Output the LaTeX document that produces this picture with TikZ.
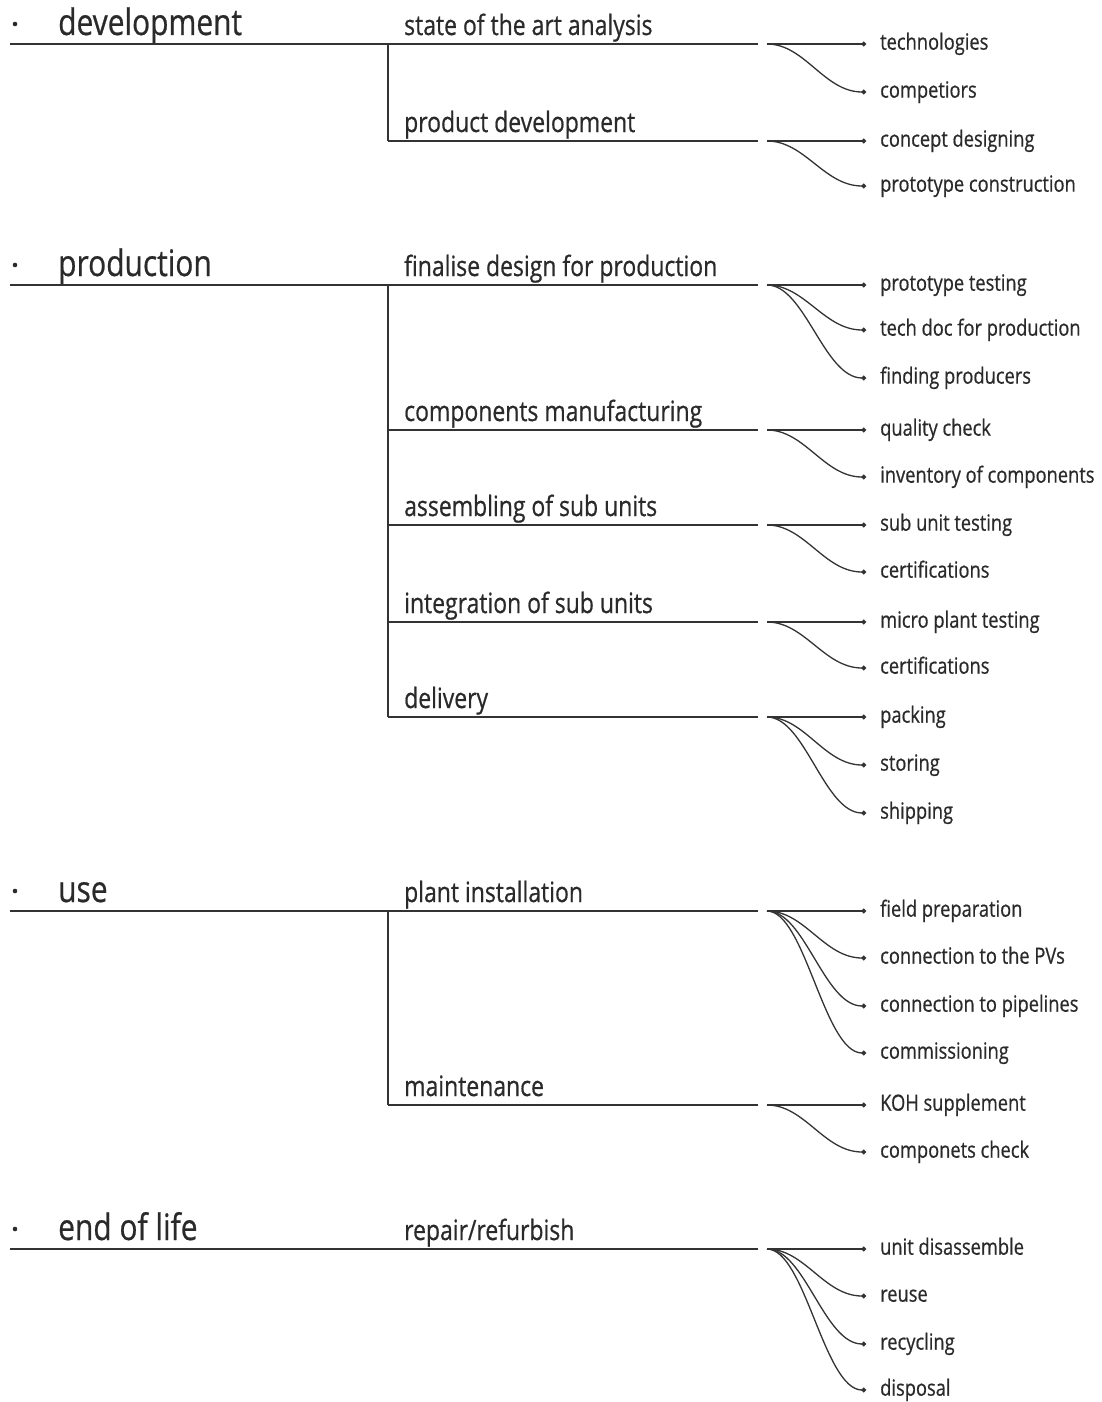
\documentclass[tikz,border=0pt]{standalone}
\usepackage{fontspec}
\setmainfont[FakeStretch=0.82,FakeBold=0.6]{Open Sans}
\usetikzlibrary{arrows.meta,calc}
\definecolor{tc}{HTML}{2A2A2A}
\definecolor{lc}{HTML}{333333}
\tikzset{
  ln/.style={line width=1.3pt, draw=lc},
  conn/.style={ln, -{Circle[length=4.6pt]}},
  headtxt/.style={anchor=base west, inner sep=0pt, font=\fontsize{36.5}{40}\selectfont, text=tc},
  subtxt/.style={anchor=base west, inner sep=0pt, font=\fontsize{28}{32}\selectfont, text=tc},
  leaf/.style={anchor=mid west, inner xsep=14pt, inner ysep=0pt, yshift=-3pt, font=\fontsize{22.3}{25}\selectfont, text=tc},
  bullet/.style={circle, fill=tc, inner sep=0pt, minimum size=4.6pt}
}
\newcommand\mkhead[3]{%
  \node[bullet] (#1dot) at (15,{#2-20}) {};
  \node[headtxt] (#1) at (58,{#2-9}) {#3};
  \coordinate (#1L) at (10,#2);
  \coordinate (#1R) at (388,#2);
  \draw[ln] (#1L) -- (#1R);}
\newcommand\mksub[3]{%
  \node[subtxt] (#1) at (404,{#2-9}) {#3};
  \coordinate (#1L) at (388,#2);
  \coordinate (#1R) at (758,#2);
  \coordinate (#1S) at (767,#2);
  \draw[ln] (#1L) -- (#1R);}
\newcommand\mkleaf[4]{%
  \node[leaf] (#1) at (866,#3) {#4};
  \draw[conn] (#2) .. controls ($(#2)+(38,0)$) and ($([yshift=3pt]#1.mid west)+(-42,0)$) .. ([yshift=3pt]#1.mid west);}
\begin{document}
\begin{tikzpicture}[x=1pt,y=-1pt]
\useasboundingbox (0,0) rectangle (1102,1402);
% development
\mkhead{hdev}{44}{development}
\mksub{sart}{44}{state of the art analysis}
\mksub{spd}{141}{product development}
\draw[ln] (sartL) -- (spdL);
\mkleaf{ltech}{sartS}{44}{technologies}
\mkleaf{lcomp}{sartS}{92}{competiors}
\mkleaf{lconc}{spdS}{141}{concept designing}
\mkleaf{lprot}{spdS}{186}{prototype construction}
% production
\mkhead{hprod}{285}{production}
\mksub{sfin}{285}{finalise design for production}
\mksub{scm}{430}{components manufacturing}
\mksub{sasm}{525}{assembling of sub units}
\mksub{sint}{622}{integration of sub units}
\mksub{sdel}{717}{delivery}
\draw[ln] (sfinL) -- (sdelL);
\mkleaf{lpt}{sfinS}{285}{prototype testing}
\mkleaf{ltd}{sfinS}{330}{tech doc for production}
\mkleaf{lfp}{sfinS}{378}{finding producers}
\mkleaf{lqc}{scmS}{430}{quality check}
\mkleaf{linv}{scmS}{477}{inventory of components}
\mkleaf{lsut}{sasmS}{525}{sub unit testing}
\mkleaf{lcer}{sasmS}{572}{certifications}
\mkleaf{lmpt}{sintS}{622}{micro plant testing}
\mkleaf{lcerb}{sintS}{668}{certifications}
\mkleaf{lpack}{sdelS}{717}{packing}
\mkleaf{lstor}{sdelS}{765}{storing}
\mkleaf{lship}{sdelS}{813}{shipping}
% use
\mkhead{huse}{911}{use}
\mksub{spi}{911}{plant installation}
\mksub{smnt}{1105}{maintenance}
\draw[ln] (spiL) -- (smntL);
\mkleaf{lfield}{spiS}{911}{field preparation}
\mkleaf{lpv}{spiS}{958}{connection to the PVs}
\mkleaf{lpipe}{spiS}{1006}{connection to pipelines}
\mkleaf{lcomm}{spiS}{1053}{commissioning}
\mkleaf{lkoh}{smntS}{1105}{KOH supplement}
\mkleaf{lcc}{smntS}{1152}{componets check}
% end of life
\mkhead{heol}{1249}{end of life}
\mksub{srep}{1249}{repair/refurbish}
\mkleaf{lud}{srepS}{1249}{unit disassemble}
\mkleaf{lreu}{srepS}{1296}{reuse}
\mkleaf{lrec}{srepS}{1344}{recycling}
\mkleaf{ldis}{srepS}{1390}{disposal}
\end{tikzpicture}
\end{document}
